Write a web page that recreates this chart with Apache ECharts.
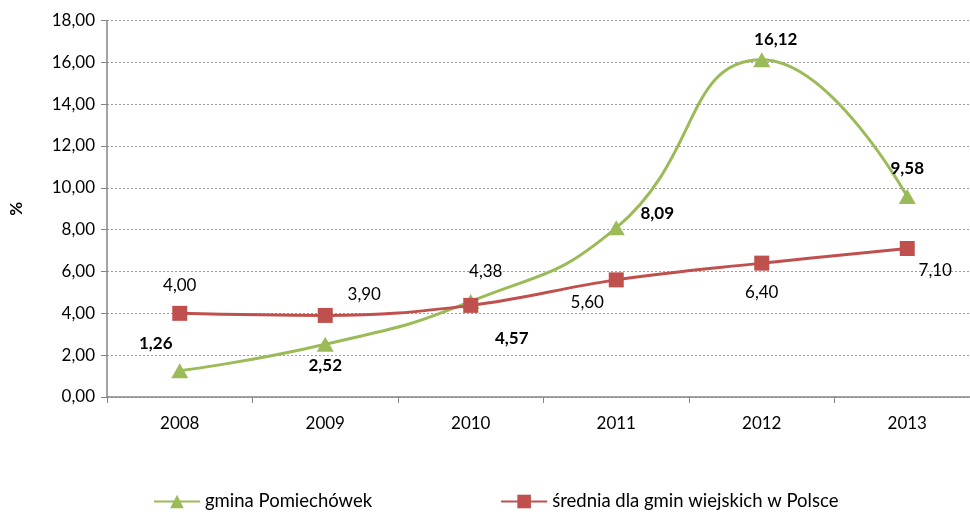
<!DOCTYPE html>
<html>
<head>
<meta charset="utf-8">
<script src="https://cdn.jsdelivr.net/npm/echarts@6/dist/echarts.min.js"></script>
<style>
  html, body { margin: 0; padding: 0; background: #fff; }
  #chart { width: 970px; height: 517px; }
</style>
</head>
<body>
<div id="chart"></div>
<script>
// Years on the category axis
const years = ['2008', '2009', '2010', '2011', '2012', '2013'];
// Share (%) for the commune and for the rural-commune average
const gmina = [1.26, 2.52, 4.57, 8.09, 16.12, 9.58];
const srednia = [4.00, 3.90, 4.38, 5.60, 6.40, 7.10];
// Y axis range
const yMin = 0, yMax = 18, yStep = 2;

// Per-point label offsets (pixels) so that labels do not collide
const gminaOffsets = [[-24, -27], [0, 21], [41, 37], [41, -14], [14, -20], [0, -28]];
const sredniaOffsets = [[0, -28], [39, -21], [15, -34], [-29, 23], [0, 29], [28, 22]];

const FONT = 'Lato, "Open Sans", sans-serif';
const fmt = v => Number(v).toFixed(2).replace('.', ',');

function withLabels(values, offsets, bold) {
  return values.map((v, i) => ({
    value: v,
    label: {
      show: true,
      position: 'inside',
      offset: offsets[i],
      formatter: p => fmt(p.value),
      color: '#000',
      fontFamily: FONT,
      fontSize: 17,
      fontWeight: bold ? 'bold' : 'normal'
    }
  }));
}

const chart = echarts.init(document.getElementById('chart'));
chart.setOption({
  animation: false,
  backgroundColor: '#fff',
  grid: { left: 107, right: -10, top: 20.5, bottom: 120, containLabel: false, outerBoundsMode: 'none' },
  xAxis: {
    type: 'category',
    data: years,
    boundaryGap: true,
    axisLine: { lineStyle: { color: '#868686', width: 1.5 } },
    axisTick: { show: true, length: 6, inside: false, lineStyle: { color: '#868686' } },
    axisLabel: { color: '#000', fontFamily: FONT, fontSize: 17, margin: 18 }
  },
  yAxis: {
    type: 'value',
    min: yMin, max: yMax, interval: yStep,
    name: '%',
    nameLocation: 'middle',
    nameGap: 82,
    nameRotate: 90,
    nameTextStyle: { color: '#000', fontFamily: FONT, fontSize: 17, fontWeight: 'bold' },
    axisLine: { show: true, lineStyle: { color: '#868686', width: 1.5 } },
    axisTick: { show: true, length: 6, lineStyle: { color: '#868686' } },
    axisLabel: { color: '#000', fontFamily: FONT, fontSize: 17, margin: 12, formatter: v => fmt(v) },
    splitLine: { show: true, lineStyle: { color: '#9a9a9a', type: [2, 2], width: 1 } }
  },
  legend: {
    bottom: 1,
    left: 148,
    itemGap: 128,
    itemWidth: 46,
    itemHeight: 17,
    textStyle: { color: '#000', fontFamily: FONT, fontSize: 18.5 },
    data: ['gmina Pomiechówek', 'średnia dla gmin wiejskich w Polsce']
  },
  series: [
    {
      name: 'gmina Pomiechówek',
      type: 'line',
      smooth: 0.5,
      data: withLabels(gmina, gminaOffsets, true),
      symbol: 'triangle',
      symbolSize: [17, 15],
      itemStyle: { color: '#9BBB59' },
      lineStyle: { color: '#9BBB59', width: 3 },
      z: 2
    },
    {
      name: 'średnia dla gmin wiejskich w Polsce',
      type: 'line',
      smooth: 0.4,
      data: withLabels(srednia, sredniaOffsets, false),
      symbol: 'rect',
      symbolSize: 15,
      itemStyle: { color: '#C0504D' },
      lineStyle: { color: '#C0504D', width: 3 },
      z: 3
    }
  ]
});
</script>
</body>
</html>
